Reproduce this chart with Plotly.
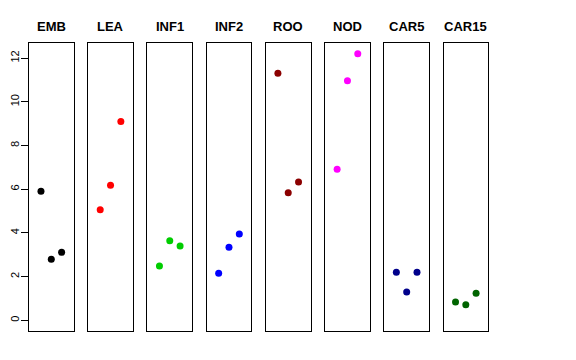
import plotly.graph_objects as go

groups = ["EMB", "LEA", "INF1", "INF2", "ROO", "NOD", "CAR5", "CAR15"]
colors = ["#000000", "#FF0000", "#00CD00", "#0000FF", "#8B0000", "#FF00FF", "#00008B", "#006400"]
reps = [1, 2, 3]
values = {
    "EMB":   [5.90, 2.79, 3.11],
    "LEA":   [5.06, 6.18, 9.10],
    "INF1":  [2.48, 3.64, 3.40],
    "INF2":  [2.15, 3.34, 3.95],
    "ROO":   [11.31, 5.84, 6.33],
    "NOD":   [6.91, 10.96, 12.20],
    "CAR5":  [2.20, 1.29, 2.20],
    "CAR15": [0.84, 0.71, 1.24],
}
yticks = [0, 2, 4, 6, 8, 10, 12]

# page body has an 8px margin; compensate
OFF = 8
W, H = 576 - 2 * OFF, 360 - 2 * OFF
left, right, top, bottom = 29 - OFF, 488 - OFF, 43 - OFF, 331 - OFF
pw = right - left
stride = 59.23
bw = 44.6

fig = go.Figure()
layout = dict(
    width=W, height=H,
    margin=dict(l=left, r=W - right, t=top, b=H - bottom, pad=0, autoexpand=False),
    plot_bgcolor="white", paper_bgcolor="white",
    showlegend=False,
    font=dict(family="Liberation Sans, Arial, sans-serif", color="black"),
    annotations=[],
)
for i, g in enumerate(groups):
    n = "" if i == 0 else str(i + 1)
    x0 = (i * stride) / pw
    x1 = (i * stride + bw) / pw
    fig.add_trace(go.Scatter(
        x=reps, y=values[g], mode="markers",
        marker=dict(color=colors[i], size=7),
        xaxis="x" + n, yaxis="y" + n,
    ))
    layout["xaxis" + n] = dict(
        domain=[x0, min(x1, 1)], range=[-0.16, 4.16], showgrid=False, zeroline=False,
        showticklabels=False, ticks="", showline=True, mirror=True, automargin=False,
        linecolor="black", linewidth=1, anchor="y" + n,
    )
    ya = dict(
        range=[-0.49, 12.69], showgrid=False, zeroline=False, showline=True, mirror=True,
        linecolor="black", linewidth=1, anchor="x" + n, automargin=False,
    )
    if i == 0:
        ya.update(tickvals=yticks, ticktext=[str(t) for t in yticks], ticks="outside",
                  ticklen=7, tickcolor="black", tickangle=-90, ticklabelstandoff=-2,
                  tickfont=dict(size=11, color="black"))
    else:
        ya.update(showticklabels=False, ticks="", matches="y")
    layout["yaxis" + n] = ya
    layout["annotations"].append(dict(
        text="<b>" + g + "</b>", x=(x0 + x1) / 2, y=1.0, xref="paper", yref="paper",
        xanchor="center", yanchor="bottom", yshift=7, showarrow=False,
        font=dict(size=13, color="black"),
    ))

fig.update_layout(**layout)
fig.write_html("out.html")
